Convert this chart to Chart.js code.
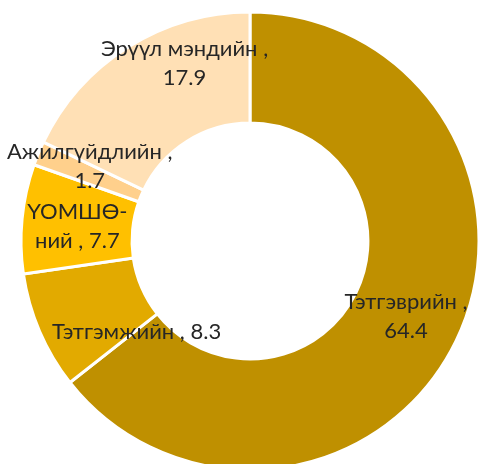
<!DOCTYPE html>
<html>
<head>
<meta charset="utf-8">
<script src="https://cdn.jsdelivr.net/npm/chart.js@4"></script>
<style>
  html, body { margin: 0; padding: 0; background: #fff; overflow: hidden; }
  #wrap { width: 478px; height: 464px; position: relative; }
</style>
</head>
<body>
<div id="wrap"><canvas id="donut"></canvas></div>
<script>
const categories = ['Тэтгэврийн', 'Тэтгэмжийн', 'ҮОМШӨ-ний', 'Ажилгүйдлийн', 'Эрүүл мэндийн'];
const values = [64.4, 8.3, 7.7, 1.7, 17.9];
const colors = ['#BF9000', '#E2AA00', '#FFC000', '#FFD08C', '#FFE0B5'];

// how each label is broken into lines
const labelLines = [
  ['Тэтгэврийн ,', '64.4'],
  ['Тэтгэмжийн , 8.3'],
  ['ҮОМШӨ-', 'ний , 7.7'],
  ['Ажилгүйдлийн ,', '1.7'],
  ['Эрүүл мэндийн ,', '17.9']
];
// nudges from the slice centre, like excel's best fit
const labelShift = [[0, 0], [46, 23], [0, 2], [0, -8], [27, -31]];

const sliceLabels = {
  id: 'sliceLabels',
  afterDatasetsDraw(chart) {
    const ctx = chart.ctx;
    const arcs = chart.getDatasetMeta(0).data;
    ctx.save();
    ctx.font = '22px Lato';
    ctx.fillStyle = '#262626';
    ctx.textAlign = 'center';
    ctx.textBaseline = 'middle';
    const lh = 29;
    arcs.forEach((arc, i) => {
      const p = arc.tooltipPosition();
      const lines = labelLines[i];
      const x = p.x + labelShift[i][0];
      const y0 = p.y + labelShift[i][1] - (lines.length - 1) * lh / 2;
      lines.forEach((t, j) => ctx.fillText(t, x, y0 + j * lh));
    });
    ctx.restore();
  }
};

new Chart(document.getElementById('donut'), {
  type: 'doughnut',
  data: {
    labels: categories,
    datasets: [{
      data: values,
      backgroundColor: colors,
      borderColor: '#ffffff',
      borderWidth: 3,
      clip: false
    }]
  },
  options: {
    responsive: true,
    maintainAspectRatio: false,
    animation: false,
    radius: 229,
    cutout: '51.5%',
    layout: { padding: { left: 22, top: 18 } },
    plugins: {
      legend: { display: false },
      tooltip: { enabled: false }
    }
  },
  plugins: [sliceLabels]
});
</script>
</body>
</html>
